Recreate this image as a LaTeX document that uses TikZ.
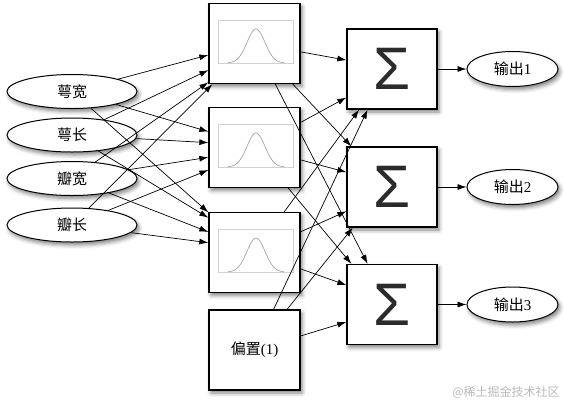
\documentclass[tikz,border=0pt]{standalone}
\usepackage{fontspec}
\setmainfont{Liberation Serif}
\newfontfamily\cjk{Noto Sans CJK SC}
\newfontfamily\sigmafont{Liberation Sans}
\usetikzlibrary{shapes.geometric,arrows.meta,shadows.blur}
\definecolor{sigmagray}{HTML}{2B2B2B}

\begin{document}
\begin{tikzpicture}[x=1pt,y=-1pt,
    shade/.style={blur shadow={shadow xshift=2pt,shadow yshift=-3pt,shadow blur radius=4pt,shadow opacity=50}},
    inp/.style={ellipse,draw,line width=1pt,fill=white,inner sep=0pt,shade,
      font=\fontsize{15}{17}\selectfont},
    box/.style={rectangle,draw,line width=1.3pt,fill=white,inner sep=0pt,shade,
      minimum width=91pt,minimum height=80pt,font=\fontsize{15}{17}\selectfont},
    arr/.style={-{Latex[length=9pt,width=6pt]},line width=0.7pt}]
    \useasboundingbox (0,0) rectangle (564,402);

    \node[inp,minimum width=130pt,minimum height=34pt] (i1) at (72,91.5) {\cjk 萼宽};
    \node[inp,minimum width=130pt,minimum height=34pt] (i2) at (72,135) {\cjk 萼长};
    \node[inp,minimum width=130pt,minimum height=34pt] (i3) at (72,178.5) {\cjk 瓣宽};
    \node[inp,minimum width=130pt,minimum height=34pt] (i4) at (72,225) {\cjk 瓣长};

    \node[box] (g1) at (254.5,43.5) {};
    \node[box] (g2) at (254.5,147.5) {};
    \node[box] (g3) at (254.5,252.5) {};
    \node[box] (b) at (254.5,350) {{\cjk 偏置}(1)};
    \foreach \g in {g1,g2,g3}{
      \begin{scope}[shift={(\g)}]
        \draw[gray!35,line width=0.6pt] (-36.5,-23.5) rectangle (38.5,19.5);
        \draw[gray!80,line width=0.6pt] plot[domain=-28:28,samples=60,smooth]
          ({\x+1.5},{19.5-34*exp(-(\x)^2/162)});
      \end{scope}
    }

    \foreach \k/\y in {1/69,2/187,3/304.5}{
      \node[box,minimum width=90pt,text=sigmagray,font=\sigmafont\fontsize{60}{62}\selectfont]
        (s\k) at (392,\y) {Σ};
      \node[inp,minimum width=91pt,minimum height=35pt] (o\k) at (512.5,\y) {{\cjk 输出}\k};
      \draw[arr] (s\k) -- (o\k);
    }

    \foreach \t/\a/\b/\c/\d in {g1/194/210/220/224,g2/161/174/192/206,g3/139/143/156/168}{
      \draw[arr] (i1) -- (\t.\a);
      \draw[arr] (i2) -- (\t.\b);
      \draw[arr] (i3) -- (\t.\c);
      \draw[arr] (i4) -- (\t.\d);
    }
    \foreach \t/\a/\b/\c/\d in {s1/169/212/231/239,s2/135/162/208/226,s3/121/135/157/201}{
      \draw[arr] (g1) -- (\t.\a);
      \draw[arr] (g2) -- (\t.\b);
      \draw[arr] (g3) -- (\t.\c);
      \draw[arr] (b) -- (\t.\d);
    }

    \node[text=gray!55,font=\cjk\fontsize{12}{14}\selectfont] (wm) at (506,392) {@稀土掘金技术社区};
\end{tikzpicture}
\end{document}
